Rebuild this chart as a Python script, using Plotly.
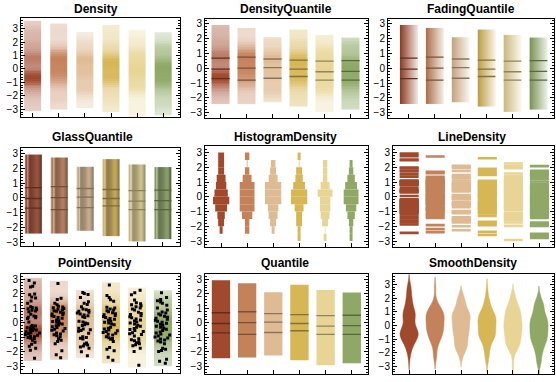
import numpy as np
import plotly.graph_objects as go
from plotly.subplots import make_subplots

# ---------------- data ----------------
categories = [1, 2, 3, 4, 5, 6]
colors = ["#A0492D", "#C4825A", "#DFBB94", "#D7B656", "#E8D596", "#90A866"]

s1 = [2.93, 2.75, 2.53, 2.48, 1.99, 1.94, 1.79, 1.72, 1.52, 1.36, 1.11, 1.07, 1.03, 0.98, 0.93, 0.88,
      0.83, 0.78, 0.6, 0.48, 0.44, 0.39, 0.35, 0.3, 0.06, -0.17, -0.21, -0.26, -0.3, -0.34, -0.39,
      -0.43, -0.48, -0.52, -0.57, -0.61, -0.66, -0.7, -0.75, -0.8, -0.85, -0.9, -0.95, -1.0, -1.05,
      -1.1, -1.2, -1.34, -1.47, -1.61, -1.74, -1.88, -2.44]
s2 = [2.73, 1.7, 1.61, 1.36, 1.25, 1.15, 1.1, 1.05, 1.0, 0.95, 0.9, 0.85, 0.8, 0.74, 0.68, 0.62, 0.56,
      0.5, 0.44, 0.38, 0.33, 0.2, 0.15, 0.1, 0.04, -0.02, -0.08, -0.14, -0.2, -0.26, -0.32, -0.38,
      -0.44, -0.5, -0.56, -0.7, -0.76, -0.82, -0.88, -0.95, -1.09, -1.2, -1.29, -1.43, -1.92, -2.19, -2.4]
s3 = [2.1, 2.04, 1.97, 1.76, 1.47, 1.36, 1.27, 1.11, 0.96, 0.91, 0.86, 0.8, 0.74, 0.68, 0.62, 0.55,
      0.49, 0.43, 0.37, 0.12, 0.06, 0.0, -0.06, -0.12, -0.17, -0.37, -0.42, -0.47, -0.52, -0.57, -0.71,
      -0.96, -1.01, -1.06, -1.11, -1.38, -1.45, -1.52, -1.59, -1.66, -1.74, -1.99, -2.26]
s4 = [2.62, 1.9, 1.76, 1.6, 1.49, 1.09, 1.03, 0.97, 0.9, 0.84, 0.77, 0.7, 0.64, 0.57, 0.51, 0.44, 0.38,
      0.31, 0.25, 0.18, 0.12, 0.05, -0.01, -0.07, -0.12, -0.3, -0.36, -0.42, -0.48, -0.54, -0.6, -0.66,
      -0.72, -0.78, -0.84, -0.96, -1.02, -1.08, -1.13, -1.29, -1.7, -1.81, -1.92, -2.37, -2.58]
s5 = [2.26, 2.08, 1.94, 1.58, 1.4, 1.33, 1.26, 1.19, 1.12, 1.04, 0.96, 0.89, 0.73, 0.66, 0.58, 0.5,
      0.43, 0.36, 0.28, 0.21, 0.14, 0.06, -0.01, -0.08, -0.16, -0.23, -0.3, -0.38, -0.45, -0.52, -0.6,
      -0.67, -0.74, -0.8, -0.91, -1.09, -1.16, -1.23, -1.3, -1.37, -1.44, -1.51, -1.58, -1.74, -1.97, -2.93]
s6 = [2.08, 1.76, 1.61, 1.53, 1.45, 1.36, 1.22, 1.04, 0.89, 0.75, 0.68, 0.61, 0.54, 0.47, 0.4, 0.33,
      0.26, 0.19, 0.12, 0.05, -0.02, -0.09, -0.16, -0.23, -0.3, -0.37, -0.44, -0.53, -0.62, -0.69,
      -0.76, -0.83, -0.9, -0.97, -1.04, -1.11, -1.18, -1.25, -1.32, -1.43, -1.74, -1.82, -1.9, -1.97,
      -2.51, -2.64, -2.78]
series = [s1, s2, s3, s4, s5, s6]

q25 = [-0.70, -0.80, -0.67, -0.55, -0.80, -0.80]
q50 = [-0.05, 0.01, 0.05, -0.05, -0.23, -0.20]
q75 = [0.69, 0.76, 0.63, 0.56, 0.49, 0.52]

hist_edges = [-3.0, -2.5, -2.0, -1.5, -1.0, -0.5, 0.0, 0.5, 1.0, 1.5, 2.0, 2.5, 3.0]
hist1 = [0, 2, 4, 5, 8, 11, 9, 7, 6, 4, 4, 4]
hist2 = [0, 3, 3, 7, 10, 10, 10, 10, 6, 3, 0, 3]
hist3 = [0, 2, 4, 6, 7, 11, 11, 11, 6, 4, 3, 0]
hist4 = [2, 2, 4, 4, 6, 11, 11, 8, 5, 4, 0, 2]
hist5 = [2, 0, 4, 6, 7, 7, 10, 6, 3, 3, 3, 0]
hist6 = [2, 2, 3, 5, 7, 10, 10, 8, 5, 3, 2, 0]
hists = [hist1, hist2, hist3, hist4, hist5, hist6]

titles = ["Density", "DensityQuantile", "FadingQuantile",
          "GlassQuantile", "HistogramDensity", "LineDensity",
          "PointDensity", "Quantile", "SmoothDensity"]
yticks = [-3, -2, -1, 0, 1, 2, 3]

# ---------------- layout geometry (pixels) ----------------
W, H = 556, 382
panel_px = [  # x0, x1, y0, y1 (top-down)
    (21, 180, 18, 118), (205, 368, 19, 119), (388, 554, 19, 119),
    (21, 180, 149, 247), (205, 368, 147, 248), (393, 554, 147, 248),
    (21, 180, 275, 375), (205, 368, 275, 376), (393, 554, 275, 376)]
xranges = [(0.55, 6.64), (0.40, 6.67), (0.20, 6.60),
           (0.52, 6.66), (0.38, 6.65), (0.38, 6.56),
           (0.55, 6.66), (0.39, 6.62), (0.38, 6.58)]
yranges = [(-3.6, 3.8), (-3.38, 3.34), (-3.38, 3.34),
           (-3.25, 3.36), (-3.38, 3.43), (-3.38, 3.43),
           (-3.46, 3.41), (-3.53, 3.39), (-3.56, 3.8)]
title_x = [96, 286, 471, 92, 285, 472, 95, 285, 473]
title_y = [9.5, 9.5, 9.5, 137.5, 137.5, 137.5, 264, 264, 264]


def hex2rgb(h):
    h = h.lstrip("#")
    return np.array([int(h[i:i + 2], 16) for i in (0, 2, 4)], float)


def rgb(a):
    a = np.clip(a, 0, 255)
    return "rgb(%d,%d,%d)" % tuple(int(round(v)) for v in a)


def mix(h, t, other=(255, 255, 255)):
    """t=1 -> colour, t=0 -> other"""
    return rgb(hex2rgb(h) * t + np.array(other, float) * (1 - t))


def dark(h, f):
    return rgb(hex2rgb(h) * f)


def kde(vals, grid, bw):
    v = np.asarray(vals, float)[:, None]
    return np.exp(-0.5 * ((grid[None, :] - v) / bw) ** 2).sum(0)


fig = make_subplots(rows=3, cols=3)


def rc(i):
    return i // 3 + 1, i % 3 + 1


def add_density(i, c, lo, hi, vals, color, width, n=48, gamma=1.2, tint=0.27):
    r, cc = rc(i)
    edges = np.linspace(lo, hi, n + 1)
    mids = (edges[:-1] + edges[1:]) / 2
    d = kde(vals, mids, 0.33)
    d = (d / d.max()) ** gamma
    fig.add_trace(go.Heatmap(x=[c - width / 2, c + width / 2], y=edges, z=d[:, None],
                             colorscale=[[0, mix(color, tint)], [1, color]], zmin=0, zmax=1,
                             showscale=False, hoverinfo="skip"), row=r, col=cc)


def add_qlines(i, width, lw=1.3, f=0.62):
    r, cc = rc(i)
    for k, c in enumerate(categories):
        xs, ys = [], []
        for q in (q25[k], q50[k], q75[k]):
            xs += [c - width / 2, c + width / 2, None]
            ys += [q, q, None]
        fig.add_trace(go.Scatter(x=xs, y=ys, mode="lines",
                                 line=dict(color=dark(colors[k], f), width=lw),
                                 hoverinfo="skip", showlegend=False), row=r, col=cc)


BW = 0.68
# 1 Density
for k, c in enumerate(categories):
    v = series[k]
    add_density(0, c, min(v) - 0.65, max(v) + 0.65, v, colors[k], 0.66)

# 2 DensityQuantile
for k, c in enumerate(categories):
    v = series[k]
    add_density(1, c, min(v), max(v), v, colors[k], 0.70)
add_qlines(1, 0.70)

# 3 FadingQuantile
ramp = np.linspace(1, 0, 18)
for k, c in enumerate(categories):
    v = series[k]
    xe = np.linspace(c - BW / 2, c + BW / 2, len(ramp) + 1)
    fig.add_trace(go.Heatmap(x=xe, y=[min(v), max(v)], z=[ramp],
                             colorscale=[[0, mix(colors[k], 0.15)], [1, dark(colors[k], 0.88)]],
                             zmin=0, zmax=1, showscale=False, hoverinfo="skip"), row=1, col=3)
add_qlines(2, BW)

# 4 GlassQuantile
glass_profile = [0.25, -0.1, 0.55, 0.2, -0.35, -0.45, -0.45, -0.4, -0.35, -0.3,
                 -0.2, -0.1, -0.05, -0.05, -0.15, -0.3, -0.45, -0.6]
for k, c in enumerate(categories):
    v = series[k]
    xe = np.linspace(c - 0.33, c + 0.33, len(glass_profile) + 1)
    base = hex2rgb(colors[k]) * 0.8 + np.array([128, 128, 128]) * 0.2
    fig.add_trace(go.Heatmap(x=xe, y=[min(v), max(v)], z=[glass_profile],
                             colorscale=[[0, rgb(base * 0.45)], [0.5, rgb(base)],
                                         [1, rgb(base * 0.25 + 220 * 0.75)]],
                             zmin=-1, zmax=1, showscale=False, hoverinfo="skip"), row=2, col=1)
add_qlines(3, 0.66, f=0.6)

# 5 HistogramDensity
edges = np.array(hist_edges)
mids = (edges[:-1] + edges[1:]) / 2
for k, c in enumerate(categories):
    cnt = np.array(hists[k], float)
    nz = np.nonzero(cnt)[0]
    w = cnt * 0.057
    inner = np.arange(len(cnt))
    stem = (cnt == 0) & (inner > nz.min()) & (inner < nz.max())
    w[stem] = 0.022
    keep = w > 0
    fig.add_trace(go.Bar(orientation="h", y=mids[keep], x=w[keep], base=c - w[keep] / 2,
                         width=0.5, marker=dict(color=colors[k], line=dict(width=0)),
                         hoverinfo="skip", showlegend=False), row=2, col=2)

# 6 LineDensity
for k, c in enumerate(categories):
    xs, ys = [], []
    for val in series[k]:
        xs += [c - 0.365, c + 0.365, None]
        ys += [val, val, None]
    fig.add_trace(go.Scatter(x=xs, y=ys, mode="lines", line=dict(color=colors[k], width=2.6),
                             hoverinfo="skip", showlegend=False), row=2, col=3)

# 7 PointDensity
for k, c in enumerate(categories):
    v = series[k]
    add_density(6, c, min(v) - 0.18, max(v) + 0.18, v, colors[k], BW)
for k, c in enumerate(categories):
    fig.add_trace(go.Box(x0=c, y=series[k], boxpoints="all", jitter=0.95, pointpos=0,
                         width=BW * 0.95, fillcolor="rgba(0,0,0,0)", whiskerwidth=0,
                         line=dict(width=0, color="rgba(0,0,0,0)"),
                         marker=dict(color="black", size=3, symbol="square"),
                         hoverinfo="skip", showlegend=False), row=3, col=1)

# 8 Quantile
for k, c in enumerate(categories):
    v = series[k]
    fig.add_trace(go.Bar(x=[c], y=[max(v) - min(v)], base=[min(v)], width=0.70,
                         marker=dict(color=colors[k], line=dict(width=0)),
                         hoverinfo="skip", showlegend=False), row=3, col=2)
add_qlines(7, 0.70)

# 9 SmoothDensity
for k, c in enumerate(categories):
    fig.add_trace(go.Violin(x0=c, y=series[k], width=0.70, points=False, spanmode="soft",
                            bandwidth=0.4, scalemode="width", fillcolor=colors[k],
                            line=dict(color=colors[k], width=0.5), opacity=1,
                            box=dict(visible=False), meanline=dict(visible=False),
                            hoverinfo="skip", showlegend=False), row=3, col=3)

# ---------------- axes ----------------
font = dict(family="Liberation Sans, Arial, sans-serif", size=10, color="black")
for i in range(9):
    x0, x1, y0, y1 = panel_px[i]
    sx = "" if i == 0 else str(i + 1)
    fig.layout["xaxis" + sx].update(
        domain=[x0 / W, x1 / W], range=list(xranges[i]), type="linear",
        tickvals=categories, ticks="inside", ticklen=4, tickcolor="black",
        showticklabels=False, showgrid=False, zeroline=False,
        showline=True, linecolor="black", linewidth=1, mirror=True)
    fig.layout["yaxis" + sx].update(
        domain=[1 - y1 / H, 1 - y0 / H], range=list(yranges[i]), type="linear",
        tickvals=yticks, ticks="inside", ticklen=4, tickcolor="black",
        tickfont=font, showgrid=False, zeroline=False,
        showline=True, linecolor="black", linewidth=1, mirror="ticks",
        minor=dict(ticks="inside", ticklen=2, dtick=0.2, tick0=0, tickcolor="black", showgrid=False))

annotations = []
for i, t in enumerate(titles):
    annotations.append(dict(text="<b>%s</b>" % t, x=title_x[i] / W, y=1 - title_y[i] / H,
                            xref="paper", yref="paper", xanchor="center", yanchor="middle",
                            showarrow=False,
                            font=dict(family="Liberation Sans, Arial, sans-serif", size=12,
                                      color="black")))

fig.update_layout(width=W, height=H, margin=dict(l=0, r=0, t=0, b=0),
                  paper_bgcolor="white", plot_bgcolor="white", showlegend=False,
                  barmode="overlay", violinmode="overlay", boxmode="overlay",
                  hovermode=False, annotations=annotations)

fig.write_html("out.html", config={"displayModeBar": False, "staticPlot": True},
               post_script="document.body.style.margin='0px';")
